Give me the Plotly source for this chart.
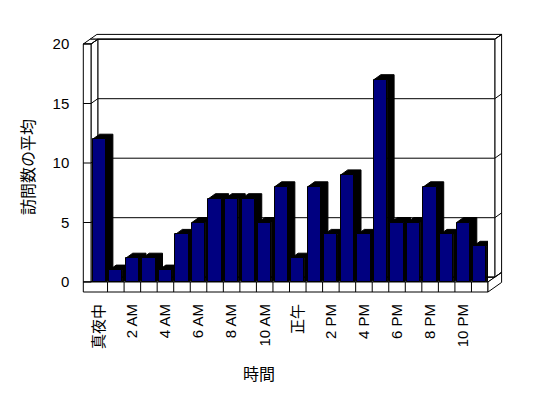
import plotly.graph_objects as go

# ---- data ----
hours = list(range(24))
avg_visits = [12, 1, 2, 2, 1, 4, 5, 7, 7, 7, 5, 8, 2, 8, 4, 9, 4, 17, 5, 5, 8, 4, 5, 3]
label_hours = [0, 2, 4, 6, 8, 10, 12, 14, 16, 18, 20, 22]
hour_labels = ["真夜中", "2 AM", "4 AM", "6 AM", "8 AM", "10 AM", "正午",
               "2 PM", "4 PM", "6 PM", "8 PM", "10 PM"]
y_ticks = [0, 5, 10, 15, 20]
x_title = "時間"
y_title = "訪問数の平均"

# ---- geometry (pixels, in page coordinates) ----
W, H = 548, 398
OFF_X, OFF_Y = 8.0, 8.0          # page body margin
L0, L1, R = 83.3, 91.0, 488.0   # outer wall, inner wall, floor right
T, F, B = 44.0, 282.0, 292.0     # top, floor top, floor bottom
DX, DY = 6.8, -4.8               # depth offset for walls
BDX, BDY = 7.0, -5.0             # depth offset for bars
YMAX = 20.0
NCAT = len(hours)
cat_w = (R - L1) / NCAT
unit_h = (F - T) / YMAX

def px(x):
    return (x - OFF_X) / W

def py(y):
    return 1 - (y - OFF_Y) / H

def ypix(v):
    return F - v * unit_h

def path(pts):
    return "M " + " L ".join(f"{px(x):.5f},{py(y):.5f}" for x, y in pts) + " Z"

shapes = []
def poly(pts, fill="white"):
    shapes.append(dict(type="path", xref="paper", yref="paper", path=path(pts),
                       fillcolor=fill, line=dict(color="black", width=1), layer="below"))

def seg(x0, y0, x1, y1):
    shapes.append(dict(type="line", xref="paper", yref="paper",
                       x0=px(x0), y0=py(y0), x1=px(x1), y1=py(y1),
                       line=dict(color="black", width=1), layer="below"))

# back wall top & right faces (thickness)
poly([(L0 + DX, T + DY), (L0 + 2 * DX, T + 2 * DY), (R + 2 * DX, T + 2 * DY), (R + DX, T + DY)])
poly([(R + DX, T + DY), (R + 2 * DX, T + 2 * DY), (R + 2 * DX, F + 2 * DY), (R + DX, F + DY)])
# back wall front face
poly([(L1 + DX, T + DY), (R + DX, T + DY), (R + DX, F + DY), (L1 + DX, F + DY)])
# floor top face
poly([(L1, F), (R, F), (R + DX, F + DY), (L1 + DX, F + DY)])
# left wall inner face, top face, front strip
poly([(L1, T), (L1 + DX, T + DY), (L1 + DX, F + DY), (L1, F)])
poly([(L0, T), (L1, T), (L1 + DX, T + DY), (L0 + DX, T + DY)])
poly([(L0, T), (L1, T), (L1, F), (L0, F)])
# floor front and right faces
poly([(L0, F), (R, F), (R, B), (L0, B)])
poly([(R, F), (R + 2 * DX, F + 2 * DY), (R + 2 * DX, B + 2 * DY), (R, B)])

# gridlines derived from tick values
for v in y_ticks:
    yy = ypix(v)
    seg(L0, yy, L1, yy)
    seg(L1, yy, L1 + DX, yy + DY)
    seg(L1 + DX, yy + DY, R + DX, yy + DY)
    seg(R + DX, yy + DY, R + 2 * DX, yy + 2 * DY)

# category boundary ticks on floor front
for k in range(1, NCAT):
    xx = L1 + k * cat_w
    seg(xx, F, xx, B)

# ---- bar extrusions (black depth) via data coordinates ----
bw = 0.8
ddx = BDX / cat_w
ddy = -BDY / unit_h
ex, ey = [], []
for h, v in zip(hours, avg_visits):
    xl, xr = h - bw / 2, h + bw / 2
    ex += [xl, xl + ddx, xr + ddx, xr + ddx, xr, xr, xl, None]
    ey += [v, v + ddy, v + ddy, ddy, 0, v, v, None]

fig = go.Figure()
fig.add_trace(go.Scatter(x=ex, y=ey, mode="lines", fill="toself",
                         fillcolor="black", line=dict(color="black", width=1),
                         hoverinfo="skip", showlegend=False, xaxis="x", yaxis="y"))
fig.add_trace(go.Bar(x=hours, y=avg_visits, width=bw,
                     marker=dict(color="#000080", line=dict(color="black", width=1)),
                     showlegend=False, xaxis="x2", yaxis="y2"))

font_fam = "Liberation Sans, Arial, Noto Sans CJK JP, sans-serif"
fig.update_layout(
    width=W, height=H, autosize=False,
    margin=dict(l=0, r=0, t=0, b=0, pad=0),
    paper_bgcolor="white", plot_bgcolor="rgba(0,0,0,0)",
    font=dict(family=font_fam, size=15, color="black"),
    shapes=shapes,
    bargap=0,
    xaxis=dict(domain=[px(L1), px(R)], range=[-0.5, NCAT - 0.5],
               tickmode="array", tickvals=label_hours, ticktext=hour_labels,
               tickangle=-90, ticks="", showgrid=False, zeroline=False,
               showline=False, ticklabelstandoff=18, anchor="y",
               automargin=False, tickfont=dict(size=15, color="black")),
    yaxis=dict(domain=[py(F), py(T)], range=[0, YMAX],
               tickmode="array", tickvals=y_ticks, ticks="",
               showgrid=False, zeroline=False, showline=False,
               anchor="free", position=px(L0), ticklabelstandoff=14,
               automargin=False, tickfont=dict(size=15, color="black")),
    xaxis2=dict(overlaying="x", matches="x", visible=False, anchor="y2",
                automargin=False),
    yaxis2=dict(overlaying="y", matches="y", visible=False, anchor="x2",
                automargin=False),
    annotations=[
        dict(text=x_title, x=px(259), y=py(374), xref="paper", yref="paper",
             showarrow=False, font=dict(size=16), xanchor="center", yanchor="middle"),
        dict(text=y_title, x=px(28), y=py(167), xref="paper", yref="paper",
             showarrow=False, font=dict(size=16), textangle=-90,
             xanchor="center", yanchor="middle"),
    ],
)

fig.write_html("out.html")
